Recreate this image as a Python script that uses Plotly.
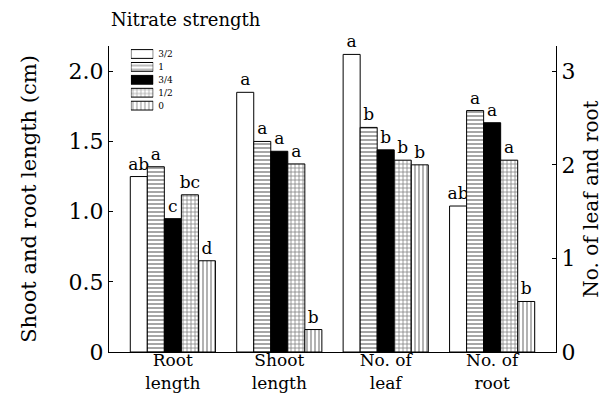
import plotly.graph_objects as go

# ---- data ----
categories = ["Root<br>length", "Shoot<br>length", "No. of<br>leaf", "No. of<br>root"]
levels = ["3/2", "1", "3/4", "1/2", "0"]

# left axis (cm)
root_length = [1.25, 1.32, 0.95, 1.12, 0.65]
shoot_length = [1.85, 1.50, 1.43, 1.34, 0.16]
# right axis (count)
leaf_no = [3.18, 2.40, 2.16, 2.05, 2.00]
root_no = [1.56, 2.58, 2.45, 2.05, 0.54]

root_length_sig = ["ab", "a", "c", "bc", "d"]
shoot_length_sig = ["a", "a", "a", "a", "b"]
leaf_no_sig = ["a", "b", "b", "b", "b"]
root_no_sig = ["ab", "a", "a", "a", "b"]

left_ticks = [0, 0.5, 1.0, 1.5, 2.0]
left_ticktext = ["0", "0.5", "1.0", "1.5", "2.0"]
right_ticks = [0, 1, 2, 3]
right_ticktext = ["0", "1", "2", "3"]

# ---- styles ----
FONT = "DejaVu Serif"
shapes_ = ["", "-", "", "+", "|"]
fills = ["white", "white", "black", "white", "white"]
sizes = [4, 4, 4, 4, 4]
solid = [0.3, 0.35, 0.3, 0.35, 0.3]


def pat(i):
    return dict(shape=shapes_[i], size=sizes[i], solidity=solid[i],
                fgcolor="black", bgcolor=fills[i])


fig = go.Figure()
for i, lev in enumerate(levels):
    fig.add_trace(go.Bar(
        x=categories[:2], y=[root_length[i], shoot_length[i]],
        text=[root_length_sig[i], shoot_length_sig[i]],
        name=lev, showlegend=False,
        marker=dict(color=fills[i], line=dict(color="black", width=1), pattern=pat(i)),
        textposition="outside", constraintext="none", cliponaxis=False,
        textfont=dict(family=FONT, size=17, color="black"),
        xaxis="x", yaxis="y",
    ))
for i, lev in enumerate(levels):
    fig.add_trace(go.Bar(
        x=categories[2:], y=[leaf_no[i], root_no[i]],
        text=[leaf_no_sig[i], root_no_sig[i]],
        name=lev, showlegend=False,
        marker=dict(color=fills[i], line=dict(color="black", width=1), pattern=pat(i)),
        textposition="outside", constraintext="none", cliponaxis=False,
        textfont=dict(family=FONT, size=17, color="black"),
        xaxis="x", yaxis="y2",
    ))

# legend key drawn as a small inset of horizontal bars
fig.add_trace(go.Bar(
    y=levels, x=[1] * len(levels), orientation="h",
    marker=dict(color=fills, line=dict(color="black", width=1),
                pattern=dict(shape=shapes_, size=sizes, solidity=solid,
                             fgcolor="black", bgcolor=fills)),
    showlegend=False, hoverinfo="skip", width=0.68,
    xaxis="x3", yaxis="y3",
))

fig.update_layout(
    width=611, height=394,
    margin=dict(l=101, r=63, t=38, b=50, autoexpand=False),
    paper_bgcolor="white", plot_bgcolor="white",
    font=dict(family=FONT, color="black"),
    barmode="group", bargap=0.2, bargroupgap=0,
    showlegend=False,
    xaxis=dict(type="category", categoryorder="array", categoryarray=categories,
               range=[-0.6, 3.6], showline=True, linecolor="black", linewidth=1,
               ticks="", showgrid=False, zeroline=False, automargin=False,
               ticklabelstandoff=-7,
               tickfont=dict(family=FONT, size=17, color="black")),
    yaxis=dict(range=[0, 2.18], tickvals=left_ticks, ticktext=left_ticktext,
               showline=True, linecolor="black", linewidth=1, ticks="inside",
               ticklen=4, tickcolor="black", showgrid=False, zeroline=False,
               automargin=False,
               tickfont=dict(family=FONT, size=22, color="black"),
               title=dict(text="Shoot and root length (cm)",
                          font=dict(family=FONT, size=21, color="black"), standoff=26)),
    yaxis2=dict(range=[0, 3.27], overlaying="y", side="right",
                tickvals=right_ticks, ticktext=right_ticktext,
                showline=True, linecolor="black", linewidth=1, ticks="inside",
                ticklen=4, tickcolor="black", showgrid=False, zeroline=False,
                automargin=False,
                tickfont=dict(family=FONT, size=22, color="black"),
                title=dict(text="No. of leaf and root",
                           font=dict(family=FONT, size=20, color="black"), standoff=9)),
    xaxis3=dict(domain=[0.049, 0.099], range=[0, 1], visible=False, anchor="y3",
                fixedrange=True, automargin=False),
    yaxis3=dict(domain=[0.784, 0.995], anchor="x3", side="right",
                categoryorder="array", categoryarray=levels[::-1],
                showline=False, showgrid=False, zeroline=False, ticks="",
                ticklabelstandoff=4, automargin=False,
                tickfont=dict(family=FONT, size=9, color="black"), fixedrange=True),
    annotations=[dict(text="Nitrate strength", xref="paper", yref="paper",
                      x=0.0, y=1.085, xanchor="left", yanchor="middle",
                      showarrow=False, font=dict(family=FONT, size=18, color="black"))],
)

fig.write_html("out.html")
